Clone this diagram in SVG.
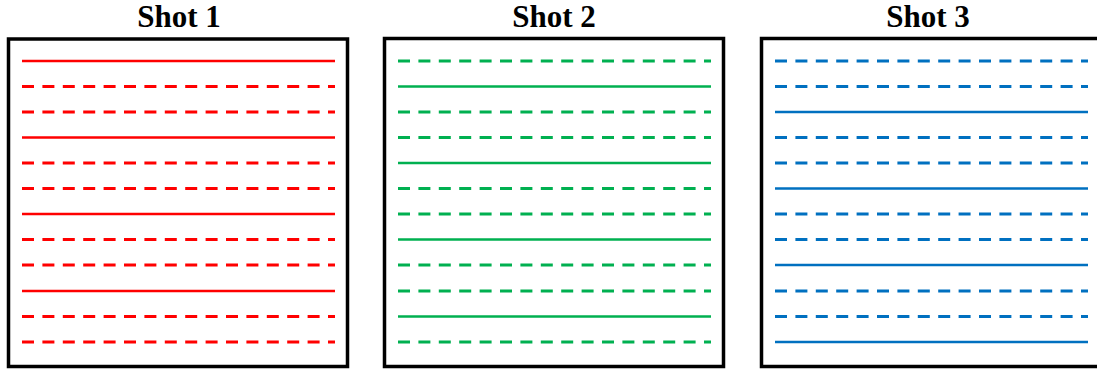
<svg xmlns="http://www.w3.org/2000/svg" width="1097" height="372" viewBox="0 0 1097 372">
<style>
.title{font-family:"Liberation Serif","Times New Roman",serif;font-weight:bold;font-size:31px;fill:#000;text-anchor:middle}
.box{fill:#fff;stroke:#000;stroke-width:3.5}
.s{stroke-width:2.5;fill:none}
.d{stroke-width:3;fill:none;stroke-dasharray:12 8.4}
.r{stroke:#FF0000}
.g{stroke:#00B050}
.b{stroke:#0070C0}
</style>
<rect width="1097" height="372" fill="#fff"/>
<g id="shot1">
<text class="title" x="179" y="27">Shot 1</text>
<rect class="box" x="8.5" y="39" width="339" height="327.5"/>
<g class="r">
<line class="s" x1="22" y1="61" x2="335" y2="61"/>
<line class="d" x1="22" y1="86.5" x2="335" y2="86.5"/>
<line class="d" x1="22" y1="112" x2="335" y2="112"/>
<line class="s" x1="22" y1="137.5" x2="335" y2="137.5"/>
<line class="d" x1="22" y1="163" x2="335" y2="163"/>
<line class="d" x1="22" y1="188.5" x2="335" y2="188.5"/>
<line class="s" x1="22" y1="214" x2="335" y2="214"/>
<line class="d" x1="22" y1="239.5" x2="335" y2="239.5"/>
<line class="d" x1="22" y1="265" x2="335" y2="265"/>
<line class="s" x1="22" y1="291" x2="335" y2="291"/>
<line class="d" x1="22" y1="316.5" x2="335" y2="316.5"/>
<line class="d" x1="22" y1="342" x2="335" y2="342"/>
</g>
</g>
<g id="shot2">
<text class="title" x="554" y="27">Shot 2</text>
<rect class="box" x="384.5" y="38.5" width="339" height="328"/>
<g class="g">
<line class="d" x1="398" y1="61" x2="711" y2="61"/>
<line class="s" x1="398" y1="86.5" x2="711" y2="86.5"/>
<line class="d" x1="398" y1="112" x2="711" y2="112"/>
<line class="d" x1="398" y1="137.5" x2="711" y2="137.5"/>
<line class="s" x1="398" y1="163" x2="711" y2="163"/>
<line class="d" x1="398" y1="188.5" x2="711" y2="188.5"/>
<line class="d" x1="398" y1="214" x2="711" y2="214"/>
<line class="s" x1="398" y1="239.5" x2="711" y2="239.5"/>
<line class="d" x1="398" y1="265" x2="711" y2="265"/>
<line class="d" x1="398" y1="291" x2="711" y2="291"/>
<line class="s" x1="398" y1="316.5" x2="711" y2="316.5"/>
<line class="d" x1="398" y1="342" x2="711" y2="342"/>
</g>
</g>
<g id="shot3">
<text class="title" x="928" y="27">Shot 3</text>
<rect class="box" x="761.5" y="38.5" width="339" height="328"/>
<g class="b">
<line class="d" x1="775" y1="61" x2="1088" y2="61"/>
<line class="d" x1="775" y1="86.5" x2="1088" y2="86.5"/>
<line class="s" x1="775" y1="112" x2="1088" y2="112"/>
<line class="d" x1="775" y1="137.5" x2="1088" y2="137.5"/>
<line class="d" x1="775" y1="163" x2="1088" y2="163"/>
<line class="s" x1="775" y1="188.5" x2="1088" y2="188.5"/>
<line class="d" x1="775" y1="214" x2="1088" y2="214"/>
<line class="d" x1="775" y1="239.5" x2="1088" y2="239.5"/>
<line class="s" x1="775" y1="265" x2="1088" y2="265"/>
<line class="d" x1="775" y1="291" x2="1088" y2="291"/>
<line class="d" x1="775" y1="316.5" x2="1088" y2="316.5"/>
<line class="s" x1="775" y1="342" x2="1088" y2="342"/>
</g>
</g>
<g id="connectors"/>
</svg>
